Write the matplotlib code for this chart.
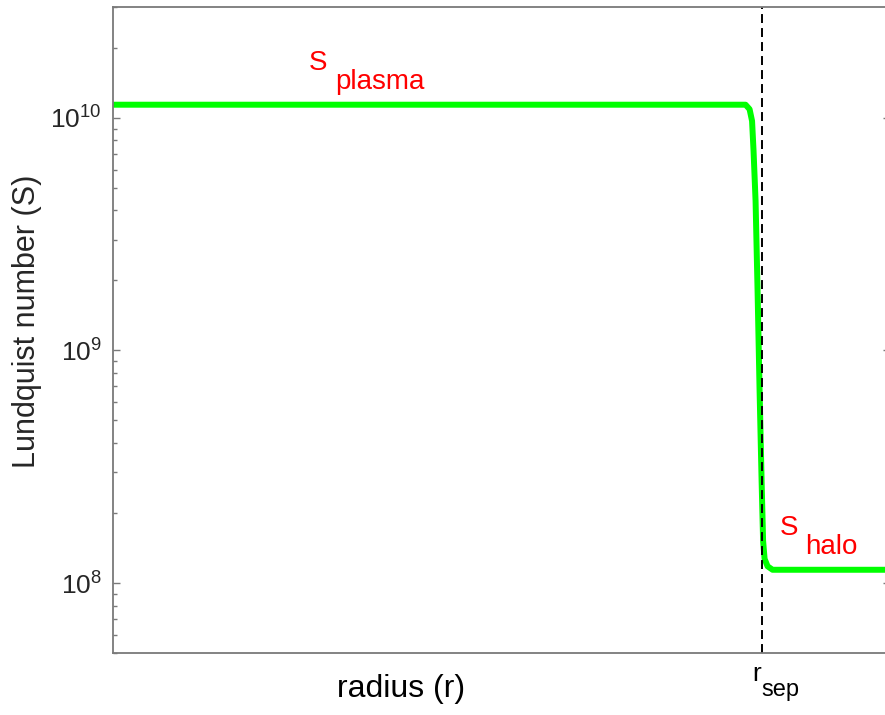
import matplotlib
matplotlib.use('Agg')
import matplotlib.pyplot as plt
from matplotlib.ticker import LogLocator, NullFormatter

plt.rcParams['font.family'] = ['Liberation Sans', 'DejaVu Sans']
plt.rcParams['mathtext.fontset'] = 'custom'
plt.rcParams['mathtext.rm'] = 'Liberation Sans'

# radius (r_sep = 1) and Lundquist number
radius = [0.0, 0.9745, 0.9807, 0.9845, 0.9868, 0.9899, 0.9930, 0.9961,
          0.9992, 1.0015, 1.0038, 1.0084, 1.0161, 1.25]
lundquist = [1.14e10, 1.14e10, 1.09e10, 9.70e9, 7.21e9, 4.40e9, 1.80e9, 6.70e8,
             2.75e8, 1.52e8, 1.27e8, 1.18e8, 1.14e8, 1.14e8]
r_sep = 1.0

AX_GRAY = '#7a7a7a'
TXT = '#262626'

fig = plt.figure(figsize=(8.85, 7.15), dpi=100)
ax = fig.add_axes([113 / 885, 1 - 653 / 715, 777 / 885, 646 / 715])

ax.plot(radius, lundquist, color='#00ff00', lw=4.3, solid_joinstyle='round',
        solid_capstyle='butt')
ax.axvline(r_sep, color='k', lw=1.4, ls=(0, (4.6, 2.6)))

ax.set_yscale('log')
ax.set_xlim(0, 1.197)
ax.set_ylim(5e7, 3e10)

ax.yaxis.set_major_locator(LogLocator(base=10))
ax.yaxis.set_minor_locator(LogLocator(base=10, subs=range(2, 10)))
ax.yaxis.set_minor_formatter(NullFormatter())
ax.set_xticks([])

ax.tick_params(axis='y', which='major', direction='in', length=5, width=1.0,
               color=AX_GRAY, labelsize=19, labelcolor=TXT, pad=8, right=True)
ax.tick_params(axis='y', which='minor', direction='in', length=3, width=1.0,
               color=AX_GRAY, right=True)
for sp in ax.spines.values():
    sp.set_color(AX_GRAY)
    sp.set_linewidth(1.3)

ax.set_ylabel('Lundquist number (S)', fontsize=22, color=TXT)
ax.yaxis.set_label_coords(-0.092, 0.514)
ax.set_xlabel('radius (r)', fontsize=23, color='k', va='top')
ax.xaxis.set_label_coords(0.371, -0.033)

# r_sep label under the dashed line
ax.text(0.9844, -0.0433, 'r', transform=ax.get_xaxis_transform(), fontsize=19,
        va='baseline', ha='left', color='k')
ax.text(0.9983, -0.0666, 'sep', transform=ax.get_xaxis_transform(), fontsize=17,
        va='baseline', ha='left', color='k')

# region labels
ax.text(0.302, 1.61e10, 'S', fontsize=20, color='#ff0000', va='baseline')
ax.text(0.342, 1.33e10, 'plasma', fontsize=20, color='#ff0000', va='baseline')
ax.text(1.0269, 1.61e8, 'S', fontsize=20, color='#ff0000', va='baseline')
ax.text(1.067, 1.33e8, 'halo', fontsize=20, color='#ff0000', va='baseline')

fig.savefig('out.png', dpi=100)
